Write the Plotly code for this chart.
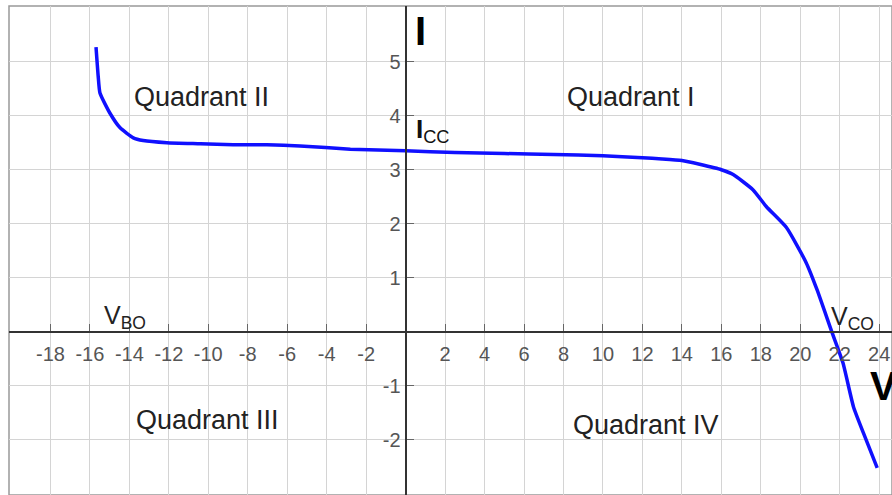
import plotly.graph_objects as go

# ---- data ----
voltage = [-15.69, -15.58, -15.49, -14.99, -14.48, -13.8, -13.3, -12.1, -10.4, -8.74,
           -7.03, -5.35, -2.8, 0.0, 2.5, 5.0, 7.5, 10.0, 12.0, 13.0, 14.0, 14.9, 16.0,
           16.6, 17.6, 18.3, 19.3, 20.3, 20.85, 21.6, 22.16, 22.7, 23.2, 23.9]
current = [5.27, 4.73, 4.42, 4.05, 3.78, 3.59, 3.54, 3.50, 3.48, 3.46,
           3.46, 3.44, 3.38, 3.35, 3.32, 3.30, 3.28, 3.26, 3.22, 3.20, 3.17, 3.10, 3.00,
           2.91, 2.63, 2.31, 1.93, 1.28, 0.78, 0.0, -0.57, -1.39, -1.87, -2.52]

x_tick_vals = [-18, -16, -14, -12, -10, -8, -6, -4, -2, 2, 4, 6, 8, 10, 12, 14, 16, 18, 20, 22, 24]
x_tick_labels = ["-18", "-16", "-14", "-12", "-10", "-8", "-6", "-4", "-2",
                 "2", "4", "6", "8", "10", "12", "14", "16", "18", "20", "22", "24"]
y_tick_vals = [-2, -1, 1, 2, 3, 4, 5]
y_tick_labels = ["-2", "-1", "1", "2", "3", "4", "5"]

X_RANGE = [-20.1, 24.65]
Y_RANGE = [-3.02, 6.03]

FONT = "Liberation Sans, Arial, sans-serif"

fig = go.Figure()
fig.add_trace(go.Scatter(x=voltage, y=current, mode="lines",
                         line=dict(color="#1010ff", width=3.5, shape="spline", smoothing=0.5),
                         hoverinfo="skip", showlegend=False))

x_pos = (0 - Y_RANGE[0]) / (Y_RANGE[1] - Y_RANGE[0])
y_pos = (0 - X_RANGE[0]) / (X_RANGE[1] - X_RANGE[0])

fig.update_layout(
    width=892, height=495,
    margin=dict(l=9, r=0, t=6, b=0),
    paper_bgcolor="white", plot_bgcolor="white",
    showlegend=False,
    xaxis=dict(range=X_RANGE, anchor="free", position=x_pos,
               tickvals=x_tick_vals, ticktext=x_tick_labels,
               ticks="inside", ticklen=7, tickcolor="#666", tickwidth=1,
               ticklabelstandoff=4,
               showgrid=True, gridcolor="#d4d4d4", gridwidth=1,
               showline=True, linecolor="#333", linewidth=2,
               zeroline=False,
               tickfont=dict(family=FONT, size=20, color="#555")),
    yaxis=dict(range=Y_RANGE, anchor="free", position=y_pos,
               tickvals=y_tick_vals, ticktext=y_tick_labels,
               ticks="inside", ticklen=7, tickcolor="#666", tickwidth=1,
               showgrid=True, gridcolor="#d4d4d4", gridwidth=1,
               showline=True, linecolor="#333", linewidth=2,
               zeroline=False,
               tickfont=dict(family=FONT, size=20, color="#555")),
)

# frame
fig.add_shape(type="rect", xref="paper", yref="paper", x0=0, x1=1, y0=0, y1=1,
              line=dict(color="#999", width=1.5), layer="below")

def ann(text, x, y, size, xanchor="center", color="#222"):
    fig.add_annotation(x=x, y=y, xref="x", yref="y", text=text, showarrow=False,
                       xanchor=xanchor, yanchor="middle",
                       font=dict(family=FONT, size=size, color=color))

ann("Quadrant II", -10.35, 4.35, 27)
ann("Quadrant I", 11.42, 4.35, 27)
ann("Quadrant III", -10.05, -1.63, 27)
ann("Quadrant IV", 12.2, -1.72, 27)
ann("<b>I</b>", 0.75, 5.56, 40, color="#000")
ann("<b>I</b><sub>CC</sub>", 0.45, 3.72, 26, xanchor="left", color="#111")
ann("V<sub>BO</sub>", -15.4, 0.27, 25, xanchor="left", color="#222")
ann("V<sub>CO</sub>", 21.45, 0.25, 25, xanchor="left", color="#222")
ann("<b>V</b>", 23.45, -1.0, 40, xanchor="left", color="#000")

fig.write_html("out.html")
